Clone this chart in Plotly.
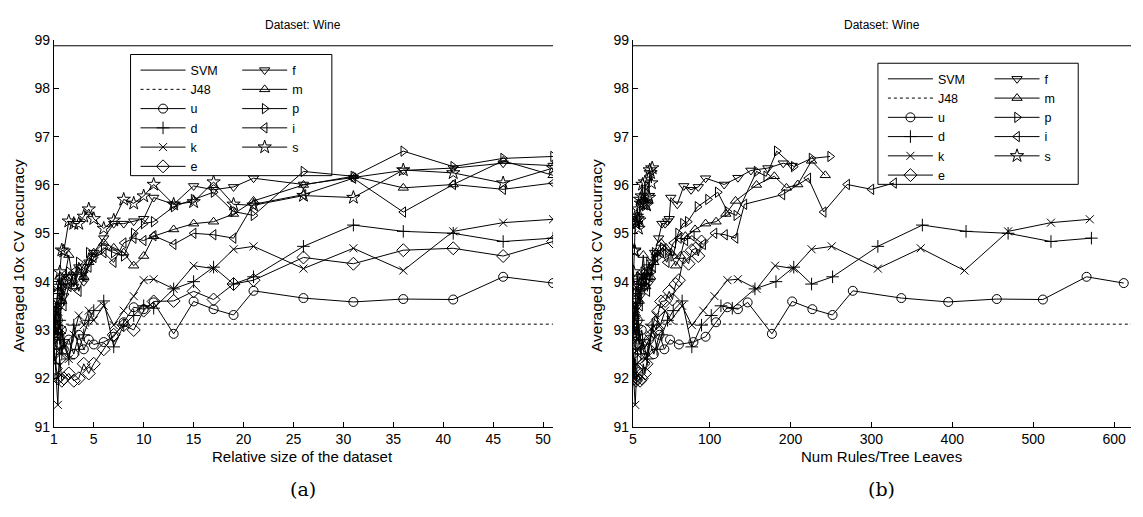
import plotly.graph_objects as go

W, H = 1143, 517

# ---------------- data ----------------
size_rel = [1, 1.2, 1.4, 1.6, 1.8, 2, 2.5, 3, 3.5, 4, 4.5, 5, 6, 7, 8, 9, 10, 11,
            13, 15, 17, 19, 21, 26, 31, 36, 41, 46, 51]

svm_acc = 98.88
j48_acc = 93.12

acc_u = [93.4, 92.9, 93.2, 92.7, 93.0, 92.6, 92.8, 92.5, 92.9, 92.6, 92.8, 92.7,
         92.75, 92.86, 93.16, 93.47, 93.43, 93.57, 92.92, 93.59, 93.43, 93.31, 93.81,
         93.66, 93.58, 93.64, 93.63, 94.10, 93.97]
acc_d = [92.6, 92.3, 92.9, 93.2, 92.5, 92.8, 92.4, 93.1, 92.6, 92.9, 93.2, 93.4,
         93.6, 92.65, 93.1, 93.3, 93.5, 93.45, 93.85, 94.0, 94.3, 93.95, 94.1,
         94.73, 95.17, 95.04, 95.0, 94.83, 94.9]
acc_k = [92.8, 92.0, 91.45, 92.6, 93.0, 92.7, 92.4, 92.9, 93.3, 93.1, 93.4, 93.2,
         93.5, 93.1, 93.4, 93.7, 94.03, 94.05, 93.85, 94.33, 94.27, 94.67, 94.73,
         94.27, 94.69, 94.23, 95.04, 95.22, 95.29]
acc_e = [92.5, 92.2, 92.0, 92.4, 91.95, 92.0, 92.1, 91.95, 92.0, 92.3, 92.1, 92.3,
         92.6, 92.9, 93.1, 93.0, 93.4, 93.59, 93.6, 93.8, 93.63, 93.95, 94.03,
         94.5, 94.37, 94.65, 94.69, 94.53, 94.83]
acc_f = [92.8, 93.2, 93.6, 93.5, 93.9, 93.7, 94.1, 93.9, 94.3, 94.0, 94.4, 94.6,
         94.9, 95.2, 95.2, 95.25, 95.3, 95.74, 95.6, 95.98, 95.9, 95.96, 96.14,
         96.01, 96.15, 96.3, 96.35, 96.45, 96.4]
acc_m = [93.0, 93.4, 93.8, 94.1, 93.6, 94.0, 94.55, 93.9, 94.2, 94.1, 94.4, 94.6,
         94.8, 94.7, 94.6, 94.33, 94.53, 94.94, 95.08, 95.2, 95.24, 95.4, 95.67,
         96.0, 96.18, 95.94, 96.01, 96.5, 96.2]
acc_p = [92.9, 93.5, 93.3, 93.8, 94.1, 93.9, 94.2, 94.0, 94.4, 94.2, 94.6, 94.5,
         94.7, 94.6, 94.53, 95.0, 95.2, 95.24, 95.55, 95.7, 95.85, 95.45, 95.37,
         96.28, 96.18, 96.70, 96.38, 96.55, 96.59]
acc_i = [92.7, 93.1, 93.4, 93.0, 93.7, 93.5, 93.9, 94.2, 93.8, 94.1, 94.3, 94.5,
         94.6, 94.4, 94.8, 94.9, 94.85, 94.95, 94.77, 95.0, 94.97, 94.9, 95.6,
         95.8, 96.14, 95.44, 96.01, 95.91, 96.04]
acc_s = [93.0, 93.4, 93.9, 94.2, 94.65, 94.63, 95.25, 95.2, 95.2, 95.35, 95.5, 95.3,
         95.1, 95.27, 95.7, 95.62, 95.77, 96.01, 95.6, 95.65, 96.06, 95.6, 95.58,
         95.78, 95.74, 96.31, 96.25, 96.04, 96.35]

rules_u = [5, 8, 11, 13, 16, 19, 25, 31, 38, 44, 51, 62, 80, 95, 108, 122, 135, 147,
           177, 202, 227, 252, 277, 337, 395, 455, 512, 566, 612]
rules_d = [5, 7, 10, 12, 15, 17, 23, 29, 35, 41, 48, 55, 66, 78, 90, 102, 114, 128,
           156, 182, 204, 226, 252, 308, 363, 417, 469, 522, 572]
rules_k = [5, 6, 8, 11, 13, 16, 21, 27, 33, 39, 45, 52, 66, 78, 92, 106, 122, 135,
           158, 181, 204, 226, 251, 308, 361, 415, 469, 522, 570]
rules_e = [5, 6, 7, 8, 9, 10, 12, 14, 16, 18, 20, 22, 25, 28, 31, 34, 37, 40,
           45, 50, 54, 58, 62, 68, 74, 78, 83, 86, 90]
rules_f = [5, 7, 9, 11, 12, 14, 17, 20, 23, 26, 29, 32, 37, 41, 45, 48, 50, 52,
           60, 68, 77, 86, 95, 118, 135, 151, 172, 191, 202]
rules_m = [5, 7, 9, 11, 13, 15, 18, 21, 24, 27, 31, 34, 40, 46, 52, 58, 64, 70,
           82, 95, 108, 120, 132, 158, 180, 195, 209, 226, 243]
rules_p = [5, 7, 9, 11, 13, 15, 18, 21, 25, 28, 32, 35, 42, 48, 55, 61, 67, 73,
           85, 98, 110, 122, 133, 158, 170, 183, 204, 226, 249]
rules_i = [5, 7, 8, 10, 12, 14, 17, 20, 23, 26, 30, 33, 40, 47, 55, 62, 70, 78,
           92, 106, 119, 132, 143, 190, 222, 241, 270, 300, 328]
rules_s = [5, 5, 6, 6, 7, 7, 8, 9, 9, 10, 11, 11, 12, 13, 14, 15, 16, 17,
           18, 19, 20, 21, 22, 24, 25, 26, 27, 28, 29]

x_range_a = [1, 51]
x_range_b = [5, 621]
y_range = [91, 99]
xticks_a = [1, 5, 10, 15, 20, 25, 30, 35, 40, 45, 50]
xticks_b = [5, 100, 200, 300, 400, 500, 600]
yticks = [91, 92, 93, 94, 95, 96, 97, 98, 99]

methods = ['u', 'd', 'k', 'e', 'f', 'm', 'p', 'i', 's']
acc = {'u': acc_u, 'd': acc_d, 'k': acc_k, 'e': acc_e, 'f': acc_f,
       'm': acc_m, 'p': acc_p, 'i': acc_i, 's': acc_s}
rules = {'u': rules_u, 'd': rules_d, 'k': rules_k, 'e': rules_e, 'f': rules_f,
         'm': rules_m, 'p': rules_p, 'i': rules_i, 's': rules_s}

# ---------------- styling ----------------
FONT = "Liberation Sans, Arial, Helvetica, sans-serif"
symbols = {'u': 'circle-open', 'd': 'cross-thin-open', 'k': 'x-thin-open',
           'e': 'diamond-open', 'f': 'triangle-down-open', 'm': 'triangle-up-open',
           'p': 'triangle-right-open', 'i': 'triangle-left-open', 's': 'star-open'}
msize = {'u': 9, 'd': 9, 'k': 8, 'e': 10, 'f': 9, 'm': 9, 'p': 9, 'i': 9, 's': 10}
col1 = ['u', 'd', 'k', 'e']

fig = go.Figure()

panels = [
    dict(xax='x', yax='y', xs=lambda m: size_rel, xr=x_range_a, lg=('legend', 'legend2')),
    dict(xax='x2', yax='y2', xs=lambda m: rules[m], xr=x_range_b, lg=('legend3', 'legend4')),
]

for pn in panels:
    lgA, lgB = pn['lg']
    fig.add_trace(go.Scatter(x=pn['xr'], y=[svm_acc, svm_acc], mode='lines', name='SVM',
                             line=dict(color='black', width=1), xaxis=pn['xax'], yaxis=pn['yax'],
                             legend=lgA))
    fig.add_trace(go.Scatter(x=pn['xr'], y=[j48_acc, j48_acc], mode='lines', name='J48',
                             line=dict(color='black', width=1, dash='dot'),
                             xaxis=pn['xax'], yaxis=pn['yax'], legend=lgA))
    for m in methods:
        fig.add_trace(go.Scatter(
            x=pn['xs'](m), y=acc[m], mode='lines+markers', name=m,
            line=dict(color='black', width=1),
            marker=dict(symbol=symbols[m], size=msize[m], color='black',
                        line=dict(color='black', width=1)),
            xaxis=pn['xax'], yaxis=pn['yax'],
            legend=lgA if m in col1 else lgB))

# ---------------- layout ----------------
def px_x(p):
    return p / W

def px_y(p):
    return 1 - p / H

dom_y = [px_y(432), px_y(33)]
axis_common = dict(showline=True, linecolor='black', linewidth=1, ticks='inside',
                   ticklen=5, tickwidth=1, tickcolor='black', showgrid=False,
                   zeroline=False, mirror=False,
                   tickfont=dict(family=FONT, size=14, color='black'))

leg_common = dict(bgcolor='rgba(0,0,0,0)', borderwidth=0, xanchor='left', yanchor='top',
                  font=dict(family=FONT, size=12.5, color='black'), itemwidth=45,
                  tracegroupgap=0, traceorder='normal', orientation='v')

fig.update_layout(
    width=W, height=H, margin=dict(l=0, r=0, t=0, b=0),
    paper_bgcolor='white', plot_bgcolor='white', showlegend=True,
    font=dict(family=FONT, color='black'),
    xaxis=dict(domain=[px_x(50), px_x(551)], range=x_range_a, tickvals=xticks_a,
               anchor='y', **axis_common),
    yaxis=dict(domain=dom_y, range=y_range, tickvals=yticks, anchor='x', **axis_common),
    xaxis2=dict(domain=[px_x(631), px_x(1131)], range=x_range_b, tickvals=xticks_b,
                anchor='y2', **axis_common),
    yaxis2=dict(domain=dom_y, range=y_range, tickvals=yticks, anchor='x2', **axis_common),
    legend=dict(x=px_x(132), y=px_y(49), **leg_common),
    legend2=dict(x=px_x(234), y=px_y(49), **leg_common),
    legend3=dict(x=px_x(882), y=px_y(58), **leg_common),
    legend4=dict(x=px_x(989), y=px_y(58), **leg_common),
)

# legend frames
for (x0, x1, y0, y1) in [(127, 329, 48, 173), (877, 1078, 57, 182)]:
    fig.add_shape(type='rect', xref='paper', yref='paper',
                  x0=px_x(x0), x1=px_x(x1), y0=px_y(y1), y1=px_y(y0),
                  line=dict(color='black', width=1), fillcolor='rgba(255,255,255,0)',
                  layer='above')

ann = []
def add_text(text, x, y, size, family=FONT, angle=0):
    ann.append(dict(text=text, x=px_x(x), y=px_y(y), xref='paper', yref='paper',
                    xanchor='center', yanchor='middle', showarrow=False, textangle=angle,
                    font=dict(family=family, size=size, color='black')))

for cx, cap in [(300, '(a)'), (881, '(b)')]:
    add_text('Dataset: Wine', cx, 18, 12)
    add_text(cap, cx, 496, 19, family='DejaVu Serif, serif')
add_text('Relative size of the dataset', 300, 463, 15)
add_text('Num Rules/Tree Leaves', 881, 463, 15)
for xx in [14, 594]:
    add_text('Averaged 10x CV accurracy', xx, 255, 15.5, angle=-90)
fig.update_layout(annotations=ann)

fig.write_html("out.html")
